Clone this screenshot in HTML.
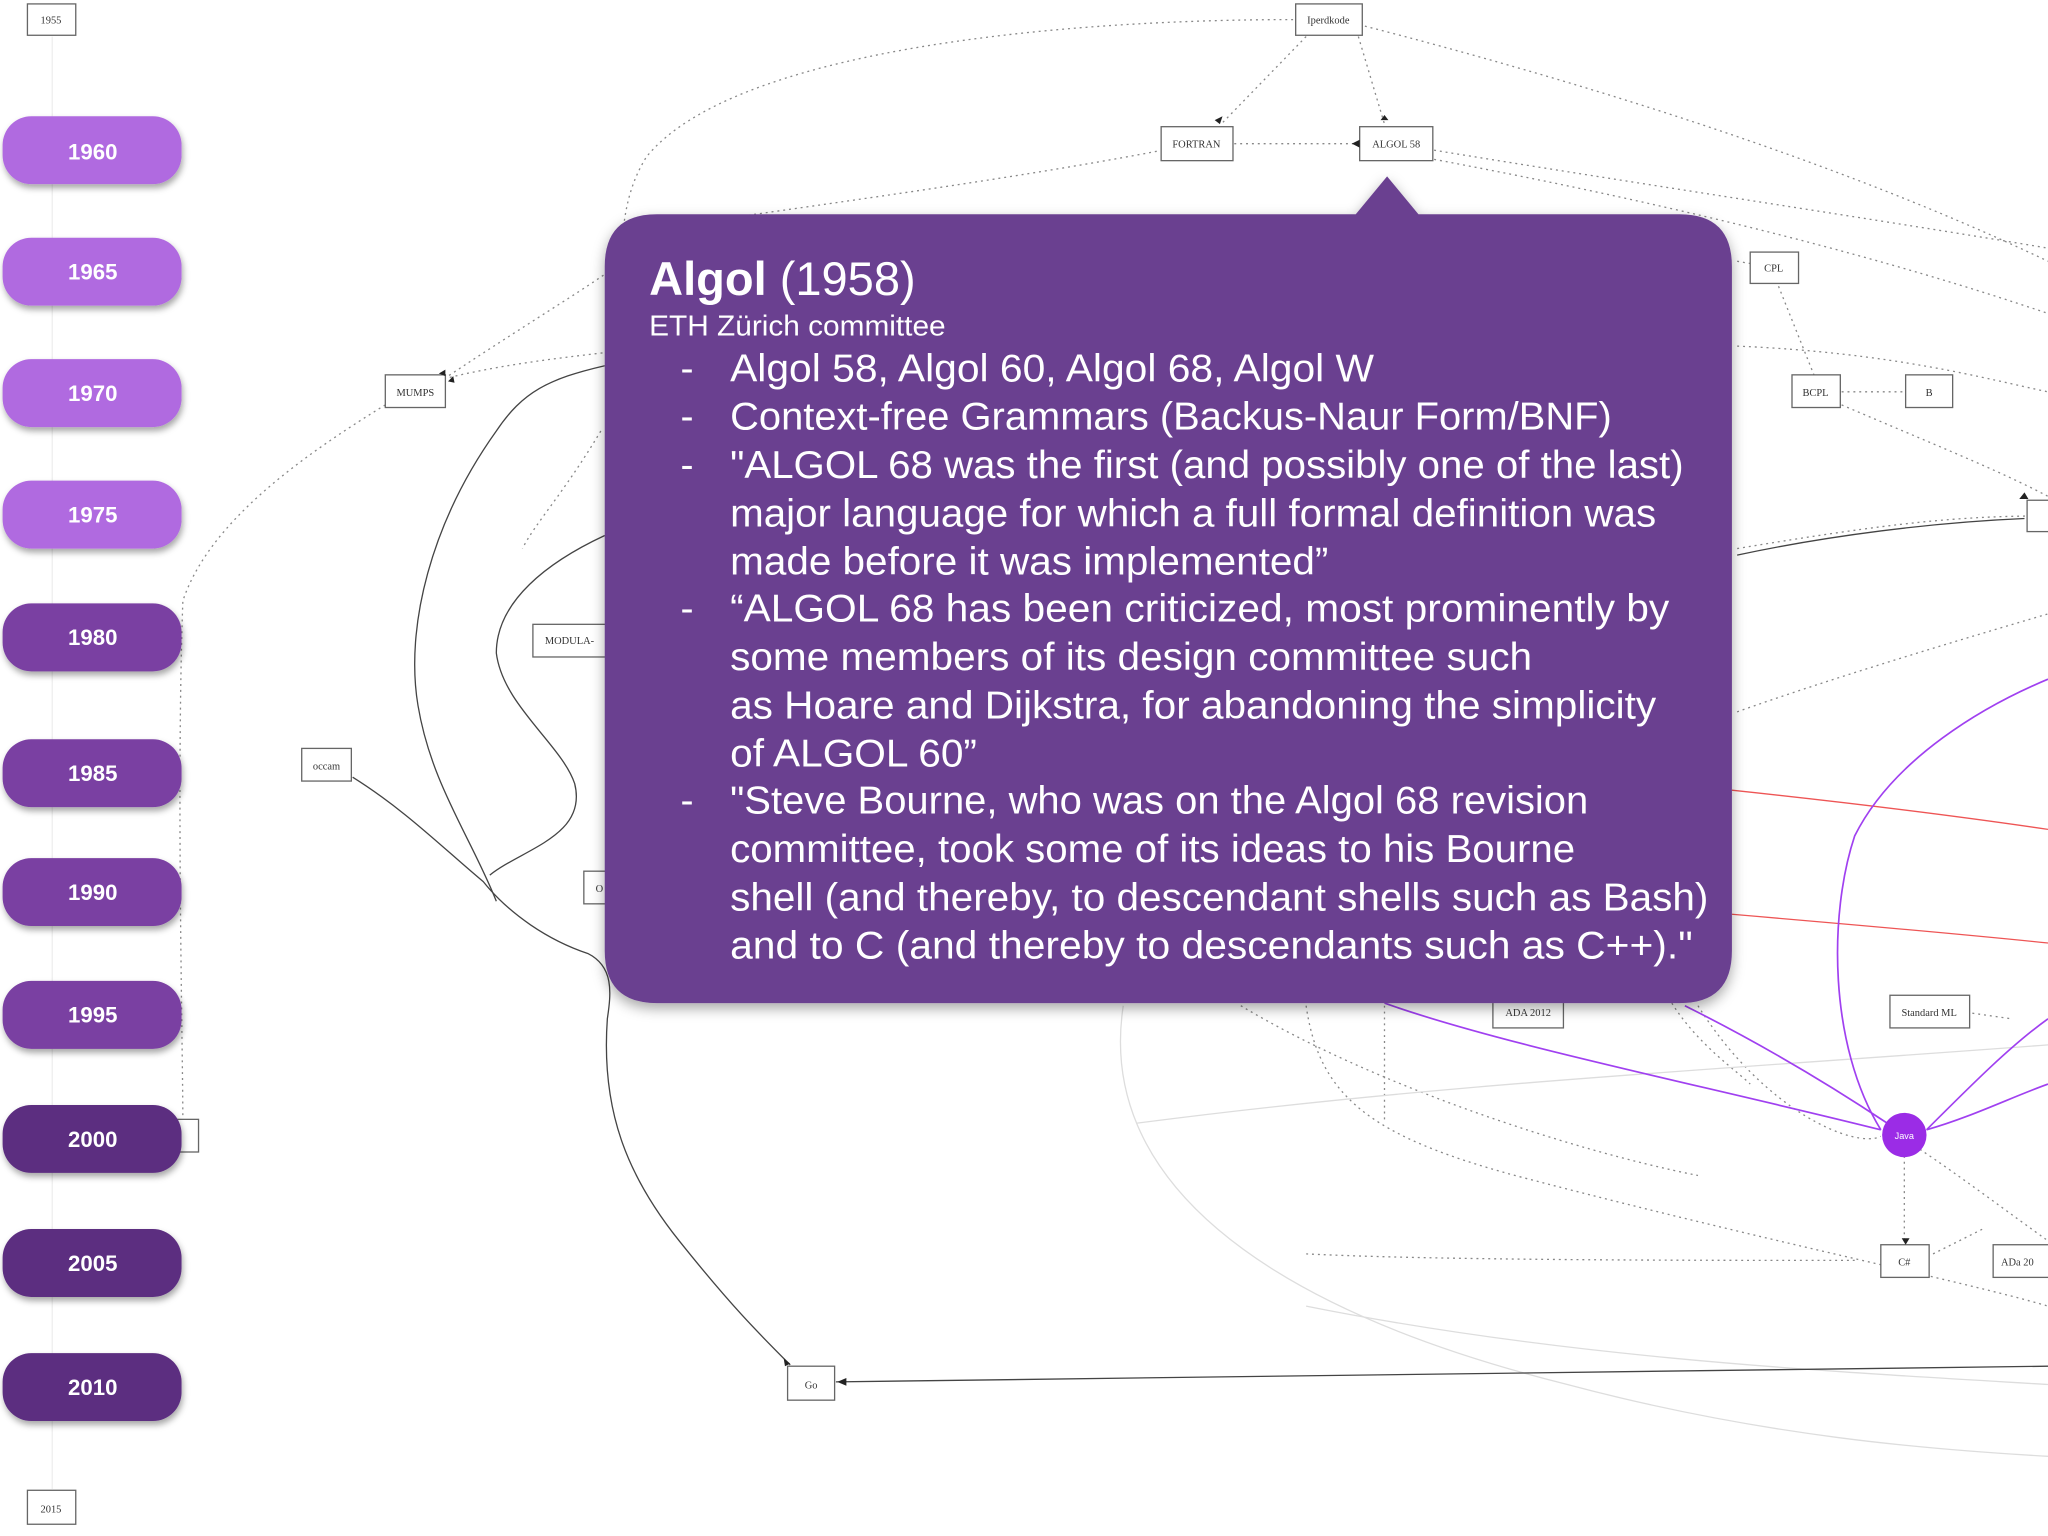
<!DOCTYPE html>
<html><head><meta charset="utf-8"><style>
html,body{margin:0;padding:0;background:#fff;}
svg{display:block;}
</style></head><body>
<svg width="2048" height="1536" viewBox="0 0 1568 1176" xmlns="http://www.w3.org/2000/svg" font-family="Liberation Sans, sans-serif">
<defs>
<filter id="sh" x="-10%" y="-10%" width="130%" height="140%"><feDropShadow dx="1" dy="3" stdDeviation="2.5" flood-color="#000" flood-opacity="0.35"/></filter>
<filter id="sh2" x="-5%" y="-5%" width="110%" height="115%"><feDropShadow dx="0" dy="4" stdDeviation="5" flood-color="#000" flood-opacity="0.35"/></filter>
</defs>
<rect width="1568" height="1176" fill="#fff"/>
<!-- timeline faint line -->
<line x1="40" y1="28" x2="40" y2="1140" stroke="#eee" stroke-width="1"/>
<g fill="none" stroke="#888" stroke-width="1" stroke-dasharray="1.5 3">
<path d="M990 15 C800 15 560 40 495 120 C470 160 480 200 470 230"/>
<path d="M1000 28 L935 95"/>
<path d="M1040 28 L1060 95"/>
<path d="M1045 20 C1200 60 1400 120 1568 200"/>
<path d="M945 110 L1040 110"/>
<path d="M890 115 C760 140 600 160 470 180"/>
<path d="M1098 115 C1250 140 1450 170 1568 190"/>
<path d="M1098 122 C1300 160 1450 200 1568 240"/>
<path d="M1330 200 L1358 205"/>
<path d="M1360 215 L1390 290"/>
<path d="M1410 300 L1460 300"/>
<path d="M1410 310 C1480 340 1530 360 1568 380"/>
<path d="M340 290 C400 250 450 220 470 205"/>
<path d="M340 290 C380 280 420 275 463 270"/>
<path d="M295 310 C230 350 160 400 140 460 C135 600 140 800 140 860"/>
<path d="M460 330 C430 380 410 400 400 420"/>
<path d="M1330 545 C1400 520 1500 490 1568 470"/>
<path d="M1330 420 C1450 400 1500 395 1568 395"/>
<path d="M1330 265 C1450 270 1520 290 1568 300"/>
<path d="M1000 770 C1010 840 1050 870 1160 900 C1350 950 1500 980 1568 1000"/>
<path d="M1060 770 L1060 860"/>
<path d="M1300 770 C1350 850 1420 880 1440 870"/>
<path d="M1458 885 L1458 955"/>
<path d="M1420 965 C1300 965 1100 965 1000 960"/>
<path d="M1480 960 L1520 940"/>
<path d="M1470 880 C1500 900 1540 930 1568 950"/>
<path d="M1470 770 L1540 780"/>
<path d="M1280 768 C1300 800 1330 820 1340 830"/>
<path d="M950 770 C1050 830 1200 880 1300 900"/>
</g>
<g fill="none" stroke="#ddd" stroke-width="1">
<path d="M860 770 C840 900 960 1000 1200 1060 C1350 1100 1480 1110 1568 1115"/>
<path d="M870 860 C1100 830 1300 820 1568 800"/>
<path d="M1000 1000 C1200 1040 1400 1050 1568 1060"/>
</g>
<g fill="none" stroke="#444" stroke-width="1">
<path d="M463 280 C420 290 400 300 380 330 C330 400 310 480 320 540 C330 600 360 640 380 690"/>
<path d="M463 410 C420 430 380 460 380 500 C385 540 430 570 440 600 C450 640 400 650 375 670"/>
<path d="M270 595 C310 620 340 650 370 675 C390 700 420 720 450 730 C470 740 468 760 465 780 C460 850 480 900 520 950 C560 1000 580 1020 605 1045"/>
<path d="M640 1058 L1568 1046"/>
<path d="M1330 425 C1400 410 1480 400 1550 397"/>
</g>
<g fill="none" stroke="#e55" stroke-width="1">
<path d="M1326 605 C1420 615 1500 625 1568 635"/>
<path d="M1326 700 C1420 708 1500 715 1568 722"/>
</g>
<g fill="none" stroke="#a040f0" stroke-width="1.3">
<path d="M1060 768 C1150 800 1300 830 1440 865"/>
<path d="M1440 865 C1400 800 1400 700 1420 640 C1450 580 1520 540 1568 520"/>
<path d="M1475 865 C1510 830 1540 800 1568 780"/>
<path d="M1475 865 C1510 855 1540 840 1568 830"/>
<path d="M1290 770 C1350 800 1400 830 1445 860"/>
</g>
<circle cx="1458" cy="869" r="17" fill="#9b2ce6"/>
<text x="1458" y="872" font-size="7" fill="#fff" text-anchor="middle">Java</text>
<!-- nodes -->
<g fill="#fff" stroke="#666" stroke-width="1" font-family="Liberation Serif, serif" font-size="8" >
<rect x="21" y="3" width="37" height="24"/><text x="39" y="18" text-anchor="middle" fill="#333" stroke="none">1955</text>
<rect x="992" y="3" width="51" height="24"/><text x="1017" y="18" text-anchor="middle" fill="#333" stroke="none">Iperdkode</text>
<rect x="889" y="97" width="55" height="26"/><text x="916" y="113" text-anchor="middle" fill="#333" stroke="none">FORTRAN</text>
<rect x="1041" y="97" width="56" height="26"/><text x="1069" y="113" text-anchor="middle" fill="#333" stroke="none">ALGOL 58</text>
<rect x="1340" y="193" width="37" height="24"/><text x="1358" y="208" text-anchor="middle" fill="#333" stroke="none">CPL</text>
<rect x="1372" y="287" width="37" height="25"/><text x="1390" y="303" text-anchor="middle" fill="#333" stroke="none">BCPL</text>
<rect x="1459" y="287" width="36" height="25"/><text x="1477" y="303" text-anchor="middle" fill="#333" stroke="none">B</text>
<rect x="1552" y="383" width="20" height="24"/>
<rect x="295" y="287" width="46" height="25"/><text x="318" y="303" text-anchor="middle" fill="#333" stroke="none">MUMPS</text>
<rect x="408" y="478" width="60" height="25"/><text x="436" y="493" text-anchor="middle" fill="#333" stroke="none">MODULA-</text>
<rect x="231" y="573" width="38" height="25"/><text x="250" y="589" text-anchor="middle" fill="#333" stroke="none">occam</text>
<rect x="447" y="667" width="20" height="25"/><text x="456" y="683" fill="#333" stroke="none">O</text>
<rect x="1143" y="762" width="54" height="25"/><text x="1170" y="778" text-anchor="middle" fill="#333" stroke="none">ADA 2012</text>
<rect x="1447" y="762" width="61" height="25"/><text x="1477" y="778" text-anchor="middle" fill="#333" stroke="none">Standard ML</text>
<rect x="1440" y="953" width="37" height="25"/><text x="1458" y="969" text-anchor="middle" fill="#333" stroke="none">C#</text>
<rect x="1526" y="953" width="46" height="25"/><text x="1532" y="969" fill="#333" stroke="none">ADa 20</text>
<rect x="603" y="1046" width="36" height="26"/><text x="621" y="1063" text-anchor="middle" fill="#333" stroke="none">Go</text>
<rect x="130" y="857" width="22" height="25"/>
<rect x="21" y="1141" width="37" height="26"/><text x="39" y="1158" text-anchor="middle" fill="#333" stroke="none">2015</text>
</g>
<g fill="#222">
<path d="M930 92 l6 -3 l-2 6z"/><path d="M1035 110 l6 -3 l0 6z"/><path d="M1057 92 l3 -4 l3 4z"/>
<path d="M336 286 l5 -3 l0 5z"/><path d="M343 292 l4 -4 l1 5z"/><path d="M600 1040 l5 4 l-4 2z"/><path d="M641 1058 l7 -3 l0 6z"/>
<path d="M1456 948 l3 5 l3 -5z"/><path d="M1546 382 l4 -5 l3 5z"/>
</g>
<!-- year pills -->
<g font-weight="bold" font-size="17" fill="#fff" text-anchor="middle">
<g filter="url(#sh)">
<rect x="2" y="89" width="137" height="52" rx="22" fill="#b06ae0"/>
<rect x="2" y="182" width="137" height="52" rx="22" fill="#b06ae0"/>
<rect x="2" y="275" width="137" height="52" rx="22" fill="#b06ae0"/>
<rect x="2" y="368" width="137" height="52" rx="22" fill="#b06ae0"/>
<rect x="2" y="462" width="137" height="52" rx="22" fill="#7a3fa2"/>
<rect x="2" y="566" width="137" height="52" rx="22" fill="#7a3fa2"/>
<rect x="2" y="657" width="137" height="52" rx="22" fill="#7a3fa2"/>
<rect x="2" y="751" width="137" height="52" rx="22" fill="#7a3fa2"/>
<rect x="2" y="846" width="137" height="52" rx="22" fill="#5c2d80"/>
<rect x="2" y="941" width="137" height="52" rx="22" fill="#5c2d80"/>
<rect x="2" y="1036" width="137" height="52" rx="22" fill="#5c2d80"/>
</g>
<text x="71" y="122">1960</text><text x="71" y="214">1965</text><text x="71" y="307">1970</text><text x="71" y="400">1975</text>
<text x="71" y="494">1980</text><text x="71" y="598">1985</text><text x="71" y="689">1990</text><text x="71" y="783">1995</text>
<text x="71" y="878">2000</text><text x="71" y="973">2005</text><text x="71" y="1068">2010</text>
</g>
<!-- popup -->
<g filter="url(#sh2)">
<path d="M503 164 L1038 164 L1062 135 L1086 164 L1286 164 Q1326 164 1326 204 L1326 728 Q1326 768 1286 768 L503 768 Q463 768 463 728 L463 204 Q463 164 503 164 Z" fill="#6b4190"/>
</g>
<g fill="#fff">
<text x="497" y="226" font-size="36"><tspan font-weight="bold">Algol</tspan><tspan font-weight="normal"> (1958)</tspan></text>
<text x="497" y="257" font-size="22" textLength="227" lengthAdjust="spacingAndGlyphs">ETH Zürich committee</text>
<g font-size="30">
<text x="521" y="292">-</text><text x="521" y="329">-</text><text x="521" y="366">-</text><text x="521" y="476">-</text><text x="521" y="623">-</text>
<text x="559" y="292" textLength="493" lengthAdjust="spacingAndGlyphs">Algol 58, Algol 60, Algol 68, Algol W</text>
<text x="559" y="329" textLength="675" lengthAdjust="spacingAndGlyphs">Context-free Grammars (Backus-Naur Form/BNF)</text>
<text x="559" y="366" textLength="730" lengthAdjust="spacingAndGlyphs">"ALGOL 68 was the first (and possibly one of the last)</text>
<text x="559" y="403" textLength="709" lengthAdjust="spacingAndGlyphs">major language for which a full formal definition was</text>
<text x="559" y="440" textLength="458" lengthAdjust="spacingAndGlyphs">made before it was implemented”</text>
<text x="559" y="476" textLength="719" lengthAdjust="spacingAndGlyphs">“ALGOL 68 has been criticized, most prominently by</text>
<text x="559" y="513" textLength="614" lengthAdjust="spacingAndGlyphs">some members of its design committee such</text>
<text x="559" y="550" textLength="709" lengthAdjust="spacingAndGlyphs">as Hoare and Dijkstra, for abandoning the simplicity</text>
<text x="559" y="587" textLength="189" lengthAdjust="spacingAndGlyphs">of ALGOL 60”</text>
<text x="559" y="623" textLength="657" lengthAdjust="spacingAndGlyphs">"Steve Bourne, who was on the Algol 68 revision</text>
<text x="559" y="660" textLength="647" lengthAdjust="spacingAndGlyphs">committee, took some of its ideas to his Bourne</text>
<text x="559" y="697" textLength="749" lengthAdjust="spacingAndGlyphs">shell (and thereby, to descendant shells such as Bash)</text>
<text x="559" y="734" textLength="737" lengthAdjust="spacingAndGlyphs">and to C (and thereby to descendants such as C++)."</text>
</g>
</g>
</svg>
</body></html>
